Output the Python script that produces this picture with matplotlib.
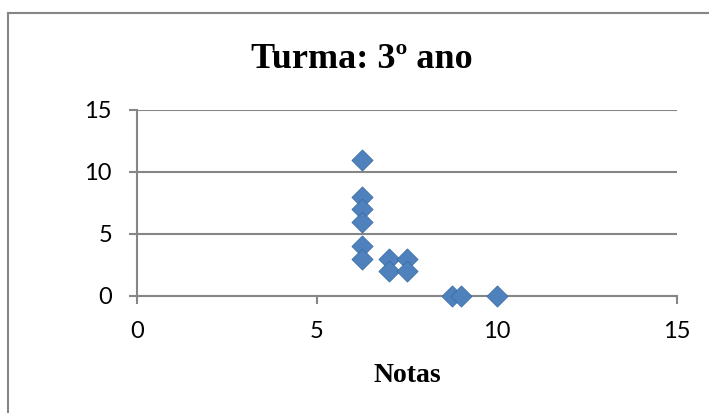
import matplotlib
matplotlib.use("Agg")
import matplotlib.pyplot as plt
from matplotlib.lines import Line2D

# notas (x) e quantidade (y)
notas = [6.25, 6.25, 6.25, 6.25, 6.25, 6.25, 7.0, 7.0, 7.5, 7.5, 8.75, 9.0, 10.0]
valores = [11, 8, 7, 6, 4, 3, 3, 2, 3, 2, 0, 0, 0]
ticks = [0, 5, 10, 15]

grey = "#868686"

fig = plt.figure(figsize=(7.09, 4.13), dpi=100)
ax = fig.add_axes([137 / 709, 117 / 413, 540 / 709, 186 / 413])

ax.scatter(notas, valores, marker="D", s=115, color="#4F81BD",
           edgecolor="#3c6ea8", linewidth=0.6, zorder=3, clip_on=False)

ax.set_xlim(0, 15)
ax.set_ylim(0, 15)
ax.set_xticks(ticks)
ax.set_yticks(ticks)
ax.yaxis.grid(True, color=grey, linewidth=1.5)
ax.set_axisbelow(True)

for s in ["top", "right"]:
    ax.spines[s].set_visible(False)
for s in ["left", "bottom"]:
    ax.spines[s].set_color(grey)
    ax.spines[s].set_linewidth(1.5)
ax.tick_params(axis="both", direction="out", length=6, width=1.5, color=grey,
               labelsize=17)
ax.tick_params(axis="x", pad=12)
ax.tick_params(axis="y", pad=12)
for lab in ax.get_xticklabels() + ax.get_yticklabels():
    lab.set_family("Lato")

ax.set_xlabel("Notas", fontsize=20, fontweight="bold", family="Liberation Serif",
              labelpad=15)
fig.text(0.51, 0.857, "Turma: 3º ano", ha="center", va="center", fontsize=26,
         fontweight="bold", family="Liberation Serif")

# moldura do gráfico
fig.add_artist(Line2D([8 / 709, 8 / 709], [0, 1 - 13 / 413], color=grey,
                      linewidth=1.5, transform=fig.transFigure))
fig.add_artist(Line2D([8 / 709, 1], [1 - 13 / 413, 1 - 13 / 413], color=grey,
                      linewidth=1.5, transform=fig.transFigure))

fig.savefig("out.png", dpi=100)
